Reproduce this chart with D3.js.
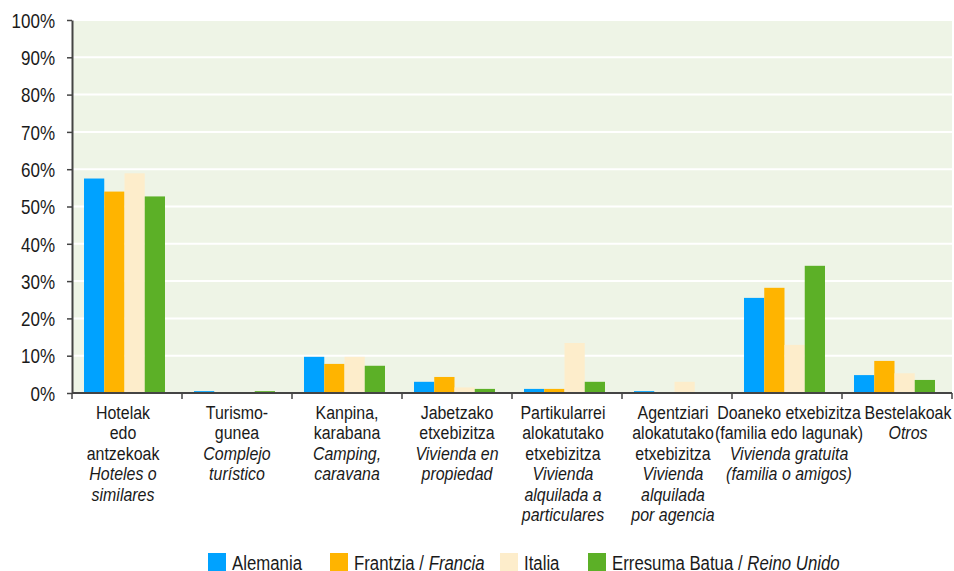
<!DOCTYPE html>
<html>
<head>
<meta charset="utf-8">
<script src="https://cdn.jsdelivr.net/npm/d3@7"></script>
<style>
  body { margin: 0; background: #fff; }
  svg text { font-family: "Liberation Sans", Arial, sans-serif; fill: #1a1a1a; }
</style>
</head>
<body>
<div id="chart"></div>
<script>
// categories: basque lines, spanish (italic) lines
let cat_keys = ["hotel", "turismo", "kanpina", "jabetza", "partikular", "agentzia", "doaneko", "beste"];
let cat_eu = [
    ["Hotelak", "edo", "antzekoak"],
    ["Turismo-", "gunea"],
    ["Kanpina,", "karabana"],
    ["Jabetzako", "etxebizitza"],
    ["Partikularrei", "alokatutako", "etxebizitza"],
    ["Agentziari", "alokatutako", "etxebizitza"],
    ["Doaneko etxebizitza", "(familia edo lagunak)"],
    ["Bestelakoak"]
];
let cat_es = [
    ["Hoteles o", "similares"],
    ["Complejo", "turístico"],
    ["Camping,", "caravana"],
    ["Vivienda en", "propiedad"],
    ["Vivienda", "alquilada a", "particulares"],
    ["Vivienda", "alquilada", "por agencia"],
    ["Vivienda gratuita", "(familia o amigos)"],
    ["Otros"]
];

let series_names = ["Alemania", "Frantzia", "Italia", "Erresuma Batua"];
let series_names_es = ["", "Francia", "", "Reino Unido"];
let series_colors = ["#00a2ff", "#ffb400", "#fdedcb", "#5cb027"];

// percentages per category
let alemania = [57.5, 0.5, 9.7, 3.0, 1.1, 0.5, 25.5, 4.8];
let frantzia = [54.0, 0.0, 7.8, 4.3, 1.1, 0.0, 28.2, 8.6];
let italia   = [58.9, 0.0, 9.7, 1.5, 13.4, 3.0, 12.9, 5.3];
let erresuma = [52.7, 0.5, 7.3, 1.1, 3.0, 0.0, 34.1, 3.5];
let all_values = [alemania, frantzia, italia, erresuma];

let y_ticks = [0, 10, 20, 30, 40, 50, 60, 70, 80, 90, 100];

let chart_width = 954;
let chart_height = 571;
let margin_left = 72;
let margin_right = 2;
let margin_top = 20;
let plot_bottom = 393;

// the original font is a condensed grotesque; squeeze Liberation Sans horizontally
let squeeze = 0.84;
// small nudges of the category labels, as in the original layout
let label_dx = [-4, 0, 0, 0, -4, -4, 2, 11];

let svg = d3.select("#chart")
    .append("svg")
    .attr("width", chart_width)
    .attr("height", chart_height);

let xScale = d3.scaleBand()
    .domain(cat_keys)
    .range([margin_left, chart_width - margin_right]);

let xSeries = d3.scaleBand()
    .domain(series_names)
    .range([12, 93]);

let yScale = d3.scaleLinear()
    .domain([0, 100])
    .range([plot_bottom, margin_top]);

// plot background
svg.append("rect")
    .attr("x", xScale.range()[0])
    .attr("y", yScale(100))
    .attr("width", xScale.range()[1] - xScale.range()[0])
    .attr("height", yScale(0) - yScale(100))
    .attr("fill", "#eef4e6");

// gridlines
svg.append("g")
    .selectAll("line")
    .data(y_ticks.filter(d => d > 0))
    .enter()
    .append("line")
    .attr("x1", xScale.range()[0])
    .attr("x2", xScale.range()[1])
    .attr("y1", d => yScale(d))
    .attr("y2", d => yScale(d))
    .attr("stroke", "white")
    .attr("stroke-width", 2);

// bars
for (let s = 0; s < series_names.length; s++) {
    svg.append("g")
        .selectAll("rect")
        .data(all_values[s])
        .enter()
        .append("rect")
        .attr("x", (d, i) => xScale(cat_keys[i]) + xSeries(series_names[s]))
        .attr("y", d => yScale(d))
        .attr("width", xSeries.bandwidth())
        .attr("height", d => yScale(0) - yScale(d))
        .attr("fill", series_colors[s]);
}

// y axis
let y_axis = svg.append("g")
    .attr("transform", "translate(" + margin_left + ",0)")
    .call(d3.axisLeft(yScale)
        .tickValues(y_ticks)
        .tickFormat(d => d + "%")
        .tickSize(5)
        .tickSizeOuter(0)
        .tickPadding(12));
y_axis.select(".domain").attr("stroke", "#444").attr("stroke-width", 2);
y_axis.selectAll(".tick line").attr("stroke", "#444").attr("stroke-width", 1.5);
y_axis.selectAll(".tick text").remove();
y_axis.selectAll(".tick")
    .append("g")
    .attr("transform", "translate(-17,0) scale(0.85,1)")
    .append("text")
    .attr("text-anchor", "end")
    .attr("dy", "0.36em")
    .attr("font-size", "20px")
    .text(d => d + "%");

// x axis
let x_axis = svg.append("g");
x_axis.append("line")
    .attr("x1", xScale.range()[0])
    .attr("x2", xScale.range()[1])
    .attr("y1", plot_bottom)
    .attr("y2", plot_bottom)
    .attr("stroke", "#444")
    .attr("stroke-width", 2);
x_axis.selectAll(".xtick")
    .data(cat_keys.map(k => xScale(k)).concat([xScale.range()[1]]))
    .enter()
    .append("line")
    .attr("x1", d => d)
    .attr("x2", d => d)
    .attr("y1", plot_bottom)
    .attr("y2", plot_bottom + 6)
    .attr("stroke", "#444")
    .attr("stroke-width", 1.5);

// category labels
let line_height = 20.5;
cat_keys.forEach(function(k, i) {
    let cx = xScale(k) + xScale.bandwidth() / 2 + label_dx[i];
    let txt = svg.append("g")
        .attr("transform", "translate(" + cx + ",419) scale(" + squeeze + ",1)")
        .append("text")
        .attr("text-anchor", "middle")
        .attr("font-size", "19px");
    let lines = cat_eu[i].map(t => [t, false]).concat(cat_es[i].map(t => [t, true]));
    lines.forEach(function(l, j) {
        txt.append("tspan")
            .attr("x", 0)
            .attr("dy", j == 0 ? 0 : line_height)
            .attr("font-style", l[1] ? "italic" : "normal")
            .text(l[0]);
    });
});

// legend
let legend_x = [208, 330, 500, 588];
let legend = svg.append("g");
series_names.forEach(function(name, i) {
    legend.append("rect")
        .attr("x", legend_x[i])
        .attr("y", 553)
        .attr("width", 18)
        .attr("height", 18)
        .attr("fill", series_colors[i]);
    let t = legend.append("g")
        .attr("transform", "translate(" + (legend_x[i] + 24) + ",570) scale(0.8,1)")
        .append("text")
        .attr("font-size", "21px")
        .text(name);
    if (series_names_es[i] != "") {
        t.append("tspan").text(" / ");
        t.append("tspan").attr("font-style", "italic").text(series_names_es[i]);
    }
});
</script>
</body>
</html>
